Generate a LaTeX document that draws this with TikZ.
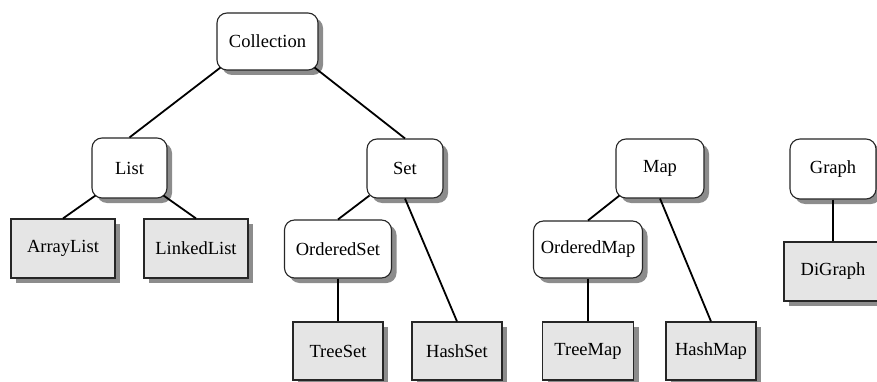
\documentclass[tikz,border=0pt]{standalone}
\usepackage{fontspec}
\setmainfont{Liberation Serif}
\usetikzlibrary{calc,shadows}
\tikzset{
  base/.style={draw=black!85, line width=1.1pt, inner sep=0pt, font=\fontsize{18.5}{20}\selectfont,
    drop shadow={shadow xshift=5pt, shadow yshift=-5pt, fill=black!45, opacity=1}},
  iface/.style={base, fill=white, rounded corners=10pt},
  impl/.style={base, fill=black!10},
  link/.style={line width=1.8pt, black}
}
\begin{document}
\begin{tikzpicture}[x=1pt,y=-1pt]
\useasboundingbox (0,0) rectangle (877,382);
\node[iface, minimum width=101pt, minimum height=57pt] (Collection) at (267.5,41.5) {Collection};
\node[iface, minimum width=75pt, minimum height=60pt] (List) at (129.5,168) {List};
\node[iface, minimum width=76pt, minimum height=59pt] (Set) at (405,168.5) {Set};
\node[iface, minimum width=88pt, minimum height=59pt] (Map) at (660,168.5) {Map};
\node[iface, minimum width=86pt, minimum height=60pt] (Graph) at (833,169) {Graph};
\node[impl, minimum width=104pt, minimum height=59pt] (ArrayList) at (63,248.5) {ArrayList};
\node[impl, minimum width=104pt, minimum height=59pt] (LinkedList) at (196,248.5) {LinkedList};
\node[iface, minimum width=107pt, minimum height=58pt] (OrderedSet) at (338,249) {OrderedSet};
\node[iface, minimum width=109pt, minimum height=57pt] (OrderedMap) at (588,249.5) {OrderedMap};
\node[impl, minimum width=98pt, minimum height=59pt] (DiGraph) at (833,271.5) {DiGraph};
\node[impl, minimum width=90pt, minimum height=58pt] (TreeSet) at (338,351) {TreeSet};
\node[impl, minimum width=90pt, minimum height=58pt] (HashSet) at (457,351) {HashSet};
\node[impl, minimum width=91pt, minimum height=58pt] (TreeMap) at (588,351) {TreeMap};
\node[impl, minimum width=90pt, minimum height=58pt] (HashMap) at (711,351) {HashMap};
\draw[link] ($(Collection.south west)+(4pt,3pt)$) -- (List.north);
\draw[link] ($(Collection.south east)+(-4pt,3pt)$) -- (Set.north);
\draw[link] ($(List.south west)+(4pt,3pt)$) -- (ArrayList.north);
\draw[link] ($(List.south east)+(-4pt,3pt)$) -- (LinkedList.north);
\draw[link] ($(Set.south west)+(3pt,3pt)$) -- (OrderedSet.north);
\draw[link] (Set.south) -- (HashSet.north);
\draw[link] (OrderedSet.south) -- (TreeSet.north);
\draw[link] ($(Map.south west)+(4pt,3pt)$) -- (OrderedMap.north);
\draw[link] (Map.south) -- (HashMap.north);
\draw[link] (OrderedMap.south) -- (TreeMap.north);
\draw[link] (Graph.south) -- (DiGraph.north);
\end{tikzpicture}
\end{document}
